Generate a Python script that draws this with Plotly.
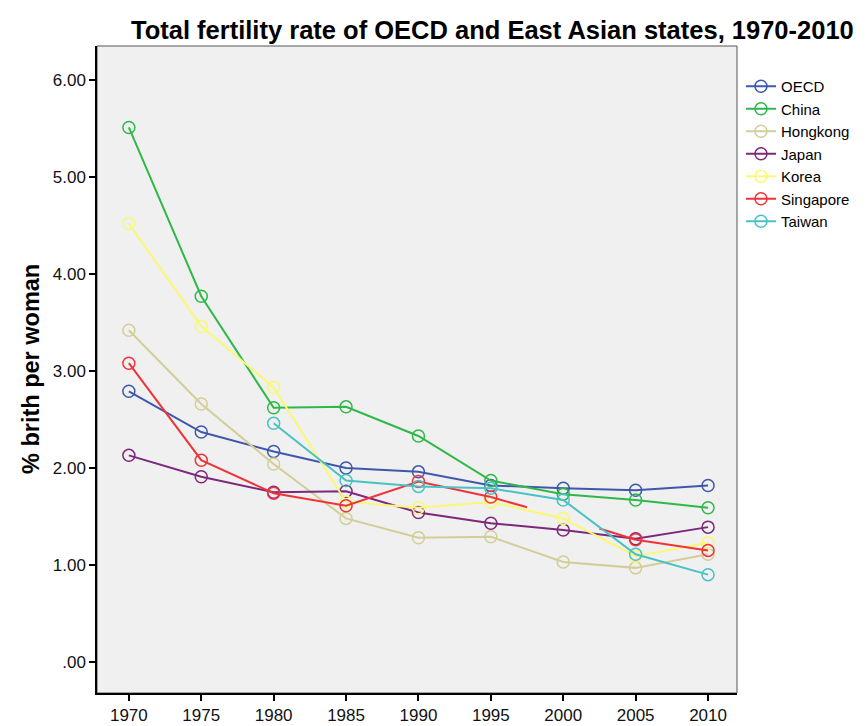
import plotly.graph_objects as go

years = [1970, 1975, 1980, 1985, 1990, 1995, 2000, 2005, 2010]
oecd      = [2.79, 2.37, 2.17, 2.00, 1.96, 1.82, 1.79, 1.77, 1.82]
china     = [5.51, 3.77, 2.62, 2.63, 2.33, 1.87, 1.73, 1.67, 1.59]
hongkong  = [3.42, 2.66, 2.04, 1.48, 1.28, 1.29, 1.03, 0.97, 1.11]
japan     = [2.13, 1.91, 1.75, 1.76, 1.54, 1.43, 1.36, 1.27, 1.39]
korea     = [4.52, 3.46, 2.83, 1.65, 1.59, 1.65, 1.48, 1.09, 1.23]
singapore = [3.08, 2.08, 1.74, 1.61, 1.86, 1.70, None, 1.26, 1.15]
taiwan    = [None, None, 2.46, 1.87, 1.81, 1.79, 1.67, 1.11, 0.90]
# Singapore 2000 has no marker; only half-segments toward this value are drawn
singapore_2000_hidden = 1.49

series_names = ["OECD", "China", "Hongkong", "Japan", "Korea", "Singapore", "Taiwan"]
series_values = [oecd, china, hongkong, japan, korea, singapore, taiwan]
colors = ["#3E58AC", "#2EB848", "#D3CE97", "#7C287D", "#FBF873", "#EF3338", "#48C2C5"]

y_ticks = [0, 1, 2, 3, 4, 5, 6]
y_ticklabels = [".00", "1.00", "2.00", "3.00", "4.00", "5.00", "6.00"]

fig = go.Figure()

for name, vals, col in zip(series_names, series_values, colors):
    fig.add_trace(go.Scatter(
        x=years, y=vals, name=name, mode="lines+markers",
        line=dict(color=col, width=2),
        marker=dict(symbol="circle-open", size=12, color=col, line=dict(width=1.5, color=col)),
        connectgaps=False, legendgroup=name,
    ))
    if name == "Singapore":
        i = vals.index(None)
        full = list(vals)
        full[i] = singapore_2000_hidden
        xs = [years[i - 1], (years[i - 1] + years[i]) / 2, None,
              (years[i] + years[i + 1]) / 2, years[i + 1]]
        ys = [full[i - 1], (full[i - 1] + full[i]) / 2, None,
              (full[i] + full[i + 1]) / 2, full[i + 1]]
        fig.add_trace(go.Scatter(
            x=xs, y=ys, mode="lines", line=dict(color=col, width=2),
            showlegend=False, legendgroup=name, hoverinfo="skip", connectgaps=False,
        ))

L, R, T, B = 97, 125, 46, 33
W, H = 867, 726
pw = W - L - R
ph = H - T - B

fig.update_layout(
    width=W, height=H,
    margin=dict(l=L, r=R, t=T, b=B),
    paper_bgcolor="white",
    plot_bgcolor="#F0F0F0",
    font=dict(family="Liberation Sans, Arial, sans-serif", size=16, color="#000000"),
    title=dict(
        text="<b>Total fertility rate of OECD and East Asian states, 1970-2010</b>",
        font=dict(size=25.5, color="#000000"),
        x=131 / W, xanchor="left", xref="container",
        y=1 - 30 / H, yanchor="middle", yref="container",
    ),
    xaxis=dict(
        range=[1967.8, 2012.0], tickvals=years, ticktext=[str(y) for y in years],
        showgrid=False, zeroline=False, showline=True, linecolor="#000000", linewidth=1.5,
        ticks="outside", ticklen=6, tickcolor="#000000", tickwidth=1.5,
        tickfont=dict(size=17, color="#111111"), automargin=False,
    ),
    yaxis=dict(
        range=[-0.32, 6.35], tickvals=y_ticks, ticktext=y_ticklabels,
        showgrid=False, zeroline=False, showline=True, linecolor="#000000", linewidth=1.5,
        ticks="outside", ticklen=6, tickcolor="#000000", tickwidth=1.5,
        tickfont=dict(size=17, color="#111111"), automargin=False,
    ),
    legend=dict(
        x=(746 - L) / pw, y=(H - B - 70) / ph, xanchor="left", yanchor="top",
        font=dict(size=15), bgcolor="rgba(0,0,0,0)", tracegroupgap=0,
        itemwidth=30,
    ),
    annotations=[dict(
        text="<b>% brith per woman</b>", textangle=-90, showarrow=False,
        xref="paper", yref="paper", x=-(L - 30) / pw, y=0.5,
        xanchor="center", yanchor="middle", font=dict(size=23.5, color="#000000"),
    )],
    shapes=[dict(type="rect", xref="paper", yref="paper", x0=0, x1=1, y0=0, y1=1,
                 line=dict(color="#555555", width=1), fillcolor="rgba(0,0,0,0)", layer="below")],
)

fig.write_html("out.html", config={"displayModeBar": False},
               post_script="document.body.style.margin='0';")
